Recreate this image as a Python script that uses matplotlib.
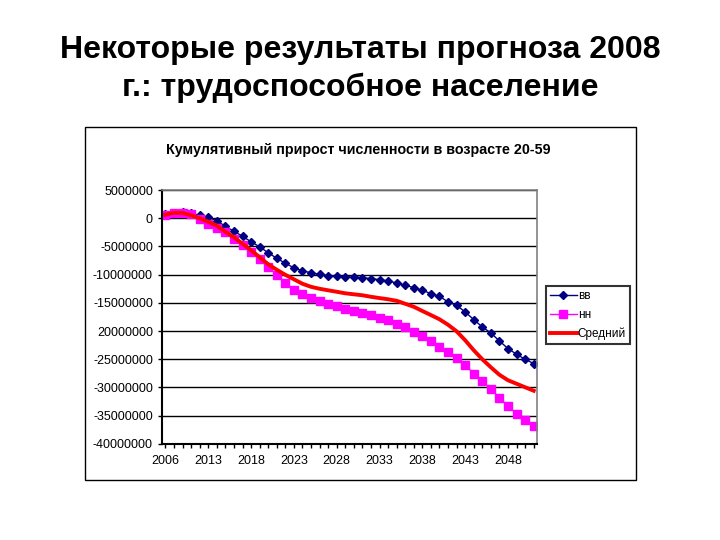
import matplotlib
matplotlib.use('Agg')
import matplotlib.pyplot as plt
from matplotlib.patches import Rectangle

plt.rcParams['font.family'] = ['Liberation Sans', 'DejaVu Sans']

# categories (one point per year), labels every 5th category as on the picture
n_points = 44
year_labels = ['2006', '2013', '2018', '2023', '2028', '2033', '2038', '2043', '2048']

# cumulative increase, millions of people
vv = [0.71, 0.98, 1.06, 0.89, 0.53, 0.18, -0.44, -1.42, -2.30, -3.19,
      -4.17, -5.05, -6.12, -7.09, -7.98, -8.78, -9.31, -9.66, -9.93, -10.15,
      -10.30, -10.38, -10.45, -10.52, -10.70, -10.87, -11.12, -11.47, -11.88, -12.29,
      -12.77, -13.35, -13.83, -14.84, -15.43, -16.61, -17.96, -19.27, -20.34, -21.76,
      -23.10, -24.11, -25.00, -25.76]
nn = [0.53, 0.98, 1.01, 0.80, -0.05, -0.94, -1.68, -2.43, -3.60, -4.66,
      -5.98, -7.15, -8.63, -10.00, -11.47, -12.64, -13.35, -14.06, -14.66, -15.12,
      -15.60, -16.01, -16.43, -16.79, -17.20, -17.61, -18.09, -18.67, -19.33, -20.16,
      -20.92, -21.81, -22.82, -23.71, -24.70, -26.06, -27.53, -28.90, -30.32, -31.79,
      -33.33, -34.63, -35.69, -36.83]
sredniy = [0.62, 0.98, 0.92, 0.53, 0.00, -0.62, -1.33, -2.39, -3.37, -4.52,
           -5.67, -6.91, -8.16, -9.13, -10.02, -10.82, -11.61, -12.15, -12.50, -12.77,
           -13.03, -13.30, -13.48, -13.65, -13.92, -14.15, -14.36, -14.63, -15.16, -15.69,
           -16.44, -17.16, -17.91, -18.88, -20.04, -21.63, -23.40, -25.00, -26.42, -27.75,
           -28.72, -29.34, -29.96, -30.58]

y_ticks = [5, 0, -5, -10, -15, -20, -25, -30, -35, -40]
y_tick_labels = ['5000000', '0', '-5000000', '-10000000', '-15000000', '20000000',
                 '-25000000', '-30000000', '-35000000', '-40000000']

x = list(range(n_points))
scale = 1e6

fig = plt.figure(figsize=(7.2, 5.4), dpi=100)
fig.patch.set_facecolor('white')

fig.text(0.5, 0.872, 'Некоторые результаты прогноза 2008\nг.: трудоспособное население',
         ha='center', va='center', fontsize=23, fontweight='bold', linespacing=1.3)

# frame of the chart object
fig.patches.append(Rectangle((0.118, 0.111), 0.765, 0.654, transform=fig.transFigure,
                             fill=False, edgecolor='black', linewidth=1))

fig.text(0.497, 0.722, 'Кумулятивный прирост численности в возрасте 20-59',
         ha='center', va='center', fontsize=10.3, fontweight='bold')

ax = fig.add_axes([0.225, 0.178, 0.521, 0.470])

ax.plot(x, [v * scale for v in vv], color='#000080', marker='D', markersize=4.5,
        linewidth=1, label='вв')
ax.plot(x, [v * scale for v in nn], color='#FF00FF', marker='s', markersize=5.5,
        linewidth=1, label='нн')
ax.plot(x, [v * scale for v in sredniy], color='#FF0000', linewidth=2.8, label='Средний')

ax.set_ylim(-40e6, 5e6)
ax.set_xlim(-0.4, n_points - 0.6)
ax.set_yticks([t * scale for t in y_ticks])
ax.set_yticklabels(y_tick_labels, fontsize=9)
ax.yaxis.grid(True, color='black', linewidth=1)
ax.set_axisbelow(True)

ax.set_xticks(x)
ax.set_xticklabels([year_labels[i // 5] if i % 5 == 0 and i // 5 < len(year_labels) else ''
                    for i in x], fontsize=9)
ax.tick_params(axis='both', direction='out', length=3, width=1, color='black')
ax.tick_params(axis='x', pad=5)

for side in ['left', 'bottom']:
    ax.spines[side].set_color('black')
    ax.spines[side].set_linewidth(1.5)
for side in ['top', 'right']:
    ax.spines[side].set_color('#808080')
    ax.spines[side].set_linewidth(1.2)

leg = fig.legend(loc='upper left', bbox_to_anchor=(0.758, 0.47), fontsize=8.5,
                 frameon=True, fancybox=False, borderpad=0.35, handlelength=2.3,
                 labelspacing=0.55, handletextpad=0.05, borderaxespad=0)
leg.get_frame().set_edgecolor('black')
leg.get_frame().set_linewidth(1.5)

fig.savefig('out.png', dpi=100, facecolor='white')
